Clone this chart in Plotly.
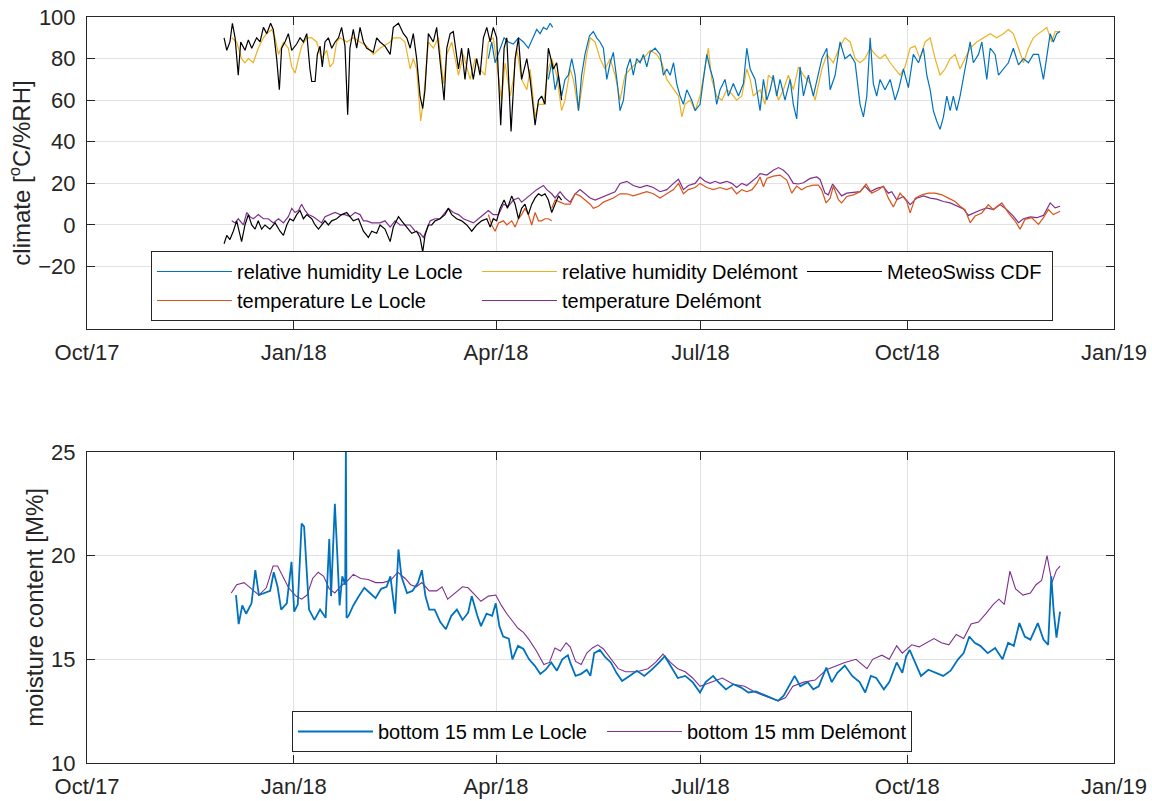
import pandas as pd
import plotly.graph_objects as go

START = pd.Timestamp("2017-10-01")
END = pd.Timestamp("2019-01-01")

# ---------------- top panel: climate (day offsets from 2017-10-01) ----------------
cdf_rh_day = [61.0,62.2,63.6,64.7,65.9,67.3,68.4,70.3,71.8,73.3,
              75.5,77.0,78.5,80.0,81.7,82.9,84.4,85.6,86.6,88.1,
              89.6,91.1,93.3,94.8,96.3,97.8,99.2,100.0,101.5,102.5,
              103.7,104.7,105.9,107.4,108.9,110.4,111.9,113.3,114.8,116.0,
              117.0,118.5,120.0,121.5,123.0,124.5,126.0,127.4,128.9,
              130.4,132.6,134.9,136.3,138.6,140.8,142.3,143.8,145.2,146.7,148.2,
              149.4,150.4,151.9,154.1,155.6,157.1,158.9,160.1,161.6,163.0,
              165.3,166.7,168.2,169.7,171.9,173.4,174.9,176.4,177.9,179.4,
              180.8,182.3,184.1,185.6,186.8,188.7,190.5,192.0,193.4,195.7,
              197.2,199.4,200.9,202.3,203.8,205.3,207.5,209.0,211.2]
cdf_rh = [90,84,88,97,90,72,88,84,89,85,
          90,88,95,92,97,94,80,65,85,88,
          92,84,87,90,88,92,75,69,69,82,
          86,76,88,90,85,88,90,95,86,53,
          85,94,85,95,88,85,84,83,90,
          88,86,82,95,97,92,90,85,92,80,62,
          56,65,92,88,95,80,60,85,92,93,
          75,85,70,85,70,80,72,90,95,88,
          95,90,48,85,90,45,80,90,70,80,
          70,48,60,62,58,85,75,78,60]

cdf_t_day = [61.0,62.2,63.6,65.1,66.6,67.8,68.8,70.3,71.8,73.3,
             74.8,76.2,77.7,79.2,81.4,83.7,85.9,87.4,88.9,90.3,
             91.8,93.3,94.8,96.3,97.8,100.0,101.5,103.0,104.4,105.9,
             107.4,108.9,111.1,113.3,115.6,117.0,118.5,120.8,123.0,125.2,
             126.7,128.9,130.4,132.6,134.9,136.3,138.6,140.0,141.5,143.0,
             144.5,146.7,148.2,149.4,150.4,151.9,153.4,154.9,157.1,159.3,
             160.8,162.3,164.5,166.7,169.0,171.2,173.4,175.6,177.9,179.4,
             180.8,182.3,183.8,185.6,187.1,189.0,190.5,192.0,193.4,194.9,
             196.4,197.9,199.4,200.9,202.3,203.8,205.3,206.8,208.3,209.8,211.2]
cdf_t = [-9,-5,-7,-3,2,-4,-8,0,5,0,
         -2,2,-2,0,-2,1,-3,-5,0,3,
         2,5,7,3,5,3,0,-2,0,2,
         0,2,3,5,6,4,2,3,-3,-6,
         -3,-4,0,-2,-8,-1,4,2,0,-2,
         -4,-3,-6,-13,-5,0,0,2,3,5,
         8,5,3,2,0,-3,0,2,3,-1,
         3,2,8,12,8,14,10,3,8,10,
         5,10,13,15,14,15,12,6,10,14,12]

rh_del_day = [64.4,66.6,68.8,70.3,71.8,74.0,76.2,78.5,80.0,82.2,
              83.7,85.2,87.4,89.6,91.1,92.6,94.1,95.5,97.8,100.0,
              102.2,104.4,106.7,108.1,109.6,111.1,112.6,115.6,118.5,121.5,
              124.5,127.4,
              130.4,134.9,136.3,139.3,141.5,143.8,145.2,146.7,148.5,149.7,
              151.9,154.1,156.4,158.6,160.1,162.3,165.3,167.5,170.5,172.7,
              174.9,177.1,178.6,180.8,183.1,184.5,186.0,188.3,189.7,191.2,
              193.4,195.7,197.2,199.4,200.9,203.1,205.3,206.8,209.0,211.2,
              212.7,215.0,216.4,218.7,220.1,222.4,223.9,226.1,228.3,230.5,
              232.8,235.0,237.2,239.4,241.7,244.6,247.6,250.6,253.5,255.8,
              258.0,261.0,263.2,264.7,266.1,268.4,270.6,272.8,275.0,276.5,
              278.0,280.2,282.5,284.7,286.9,289.1,291.4,293.6,295.1,296.5,
              299.5,301.7,303.2,305.4,307.7,309.9,312.1,314.3,316.6,318.8,
              321.8,324.0,327.0,329.2,332.1,335.1,337.3,339.6,341.8,344.0,
              346.2,348.5,350.7,352.9,355.1,357.4,359.6,361.8,364.0,366.3,
              368.5,370.7,372.9,375.2,377.4,379.6,381.8,384.1,386.3,388.5,
              390.7,393.0,395.9,398.9,401.9,404.8,407.8,410.0,412.2,414.5,
              416.7,418.9,421.1,423.4,425.6,427.1,429.3,430.8,433.0]
rh_del = [90,88,80,78,80,78,85,90,92,94,
          90,82,88,85,76,73,80,86,90,90,
          88,80,84,76,78,88,90,88,90,88,
          86,82,
          85,88,90,90,88,75,80,75,50,60,
          88,85,90,68,82,88,72,82,70,80,
          75,72,88,90,70,60,78,62,70,85,
          70,65,75,52,58,58,75,80,72,55,
          60,75,70,55,65,82,90,88,80,75,
          80,72,60,72,75,78,80,84,82,78,
          70,65,62,52,58,60,55,62,75,85,
          70,62,60,65,63,60,62,75,70,62,
          65,58,72,70,60,65,72,65,76,72,
          68,60,75,82,78,86,90,88,80,78,
          80,85,82,80,82,78,75,72,76,85,
          86,80,88,90,80,72,75,80,82,75,
          80,85,88,90,92,90,92,94,92,85,
          78,85,90,92,94,95,88,93,93]

# Le Locle relative humidity: early record (A) and main record (B)
rh_ll_a_day = [178.6,180.1,181.6,183.8,185.6,187.5,189.7,192.0,194.2,196.4,
               198.6,200.1,201.6,203.1,204.6,206.1,207.2]
rh_ll_a = [80,88,78,85,90,88,87,90,88,85,90,94,92,95,94,97,95]
rh_ll_b_day = [205.3,206.8,208.3,209.8,211.2,212.7,214.2,215.7,217.2,218.7,
               220.1,221.6,223.6,225.3,226.8,228.3,229.8,231.3,232.8,234.2,
               236.0,237.2,238.7,240.2,241.7,243.1,244.6,246.1,247.6,249.1,
               250.6,252.8,255.0,256.5,258.0,259.5,261.0,262.4,263.9,265.4,
               266.9,269.1,270.6,272.8,274.3,275.8,277.3,278.7,280.2,281.7,
               283.9,285.4,287.6,289.9,292.1,293.6,295.1,297.3,
               299.5,301.0,302.5,304.0,305.4,306.9,308.4,310.6,312.9,314.3,
               315.8,317.3,318.8,321.0,323.2,325.5,327.0,329.2,330.7,332.9,
               335.1,337.3,339.6,341.8,344.0,345.5,347.0,348.5,349.9,351.4,
               352.9,355.1,357.4,359.6,361.1,363.3,365.5,367.7,370.0,372.2,
               373.7,375.2,376.6,378.1,379.6,381.1,382.6,384.1,385.5,387.0,
               388.5,390.7,393.0,394.4,396.7,398.2,400.4,401.9,404.1,405.6,
               407.8,410.0,412.2,414.5,416.7,418.9,421.1,423.4,425.6,427.1,
               428.6,430.0,431.5,433.0]
rh_ll_b = [70,78,65,72,62,70,72,80,72,55,
           72,82,91,93,90,88,85,70,78,83,
           68,55,60,75,80,72,80,78,82,76,
           83,85,82,72,75,72,78,68,62,58,
           65,60,55,58,70,82,75,70,58,65,
           70,62,68,62,68,85,75,70,
           55,70,60,65,72,62,70,60,70,58,
           51,76,62,72,62,72,80,85,65,72,
           88,80,82,78,58,52,62,90,68,62,
           70,65,70,60,65,75,66,82,78,85,
           72,65,55,50,46,52,62,55,62,55,
           62,75,88,78,82,88,70,85,82,72,
           75,78,85,77,80,78,82,82,70,82,
           92,88,92,93]

t_del_day = [64.4,65.9,67.3,69.6,71.1,72.5,74.0,76.2,78.5,80.7,
             82.9,85.2,87.4,89.6,91.1,92.6,94.1,95.5,97.0,98.5,
             100.7,103.0,104.4,105.9,108.1,110.4,112.6,114.8,117.0,119.3,
             121.5,123.0,124.5,126.7,128.9,
             130.4,132.6,134.9,137.1,139.3,141.5,143.8,146.0,148.2,149.7,
             151.2,152.7,154.9,157.1,159.3,160.8,163.0,165.3,167.5,169.7,
             171.9,174.2,176.4,178.6,180.8,183.1,185.3,187.5,189.7,192.0,
             193.4,195.7,197.9,200.1,203.1,204.6,206.8,208.3,210.5,212.7,
             215.0,217.2,219.4,221.6,223.9,226.1,228.3,230.5,232.8,235.0,
             237.2,240.2,243.1,246.1,249.1,252.0,255.0,258.0,261.0,263.2,
             265.4,267.6,270.6,272.8,275.0,277.3,279.5,281.7,284.7,286.9,
             289.1,291.4,293.6,295.9,298.1,
             299.5,302.5,305.4,307.7,309.9,312.1,314.3,316.6,318.8,321.8,
             324.7,326.2,328.4,329.9,331.8,333.6,335.8,338.1,341.0,344.0,
             346.2,348.5,351.4,354.4,356.6,358.1,360.3,363.3,366.3,369.2,
             372.2,375.2,378.1,381.1,384.1,387.0,390.0,392.2,394.4,397.4,
             400.4,403.3,406.3,409.3,412.2,414.5,416.7,419.7,422.6,425.6,
             428.6,430.8,433.0]
t_del = [2,1,3,0,6,4,3,5,3,3,
         1,3,1,4,8,6,7,10,7,5,
         4,2,1,4,5,6,5,5,4,6,
         5,2,2,1,1,
         1,2,-1,2,0,0,0,-3,-4,-6,
         -2,2,3,3,6,8,6,5,3,2,
         1,3,5,7,5,5,10,9,12,13,
         11,13,15,17,19,17,15,13,16,13,
         11,15,17,15,13,12,13,14,15,16,
         20,21,19,18,19,18,16,17,20,22,
         17,19,20,23,21,20,21,20,21,20,
         18,20,19,21,23,
         24.7,24,26.3,27.6,26.3,24,20,19.7,20.3,22.4,
         23.1,21.9,15.3,14.5,19.7,16.9,14,15.3,15.6,16,
         18.7,16,17.6,18.4,15.3,16,12.1,13.7,9.8,12.9,
         14,12.9,12.4,11.3,10.6,9,7.7,4.6,5.8,7.1,
         8.2,7.4,9.8,7.4,4.3,1.1,3,3.9,3.5,4.6,
         10.6,8.2,9]

t_ll_a_day = [178.6,180.1,181.6,183.1,185.3,186.8,189.0,190.5,192.0,193.4,
              194.9,196.4,197.9,199.4,200.9,202.3,203.8,205.3,206.8]
t_ll_a = [5,0,-3,1,2,0,2,-1,3,5,8,5,0,6,2,2,3,3,2]
t_ll_b_day = [206.8,208.3,210.5,212.7,215.0,217.2,219.4,221.6,223.9,225.3,
              227.6,229.8,232.0,234.2,237.2,240.2,243.1,246.1,249.1,252.0,
              255.0,258.0,261.0,263.2,265.4,267.6,270.6,272.8,275.8,278.7,
              281.7,284.7,286.9,289.1,291.4,293.6,295.9,298.1,
              299.5,301.0,302.5,305.4,308.4,311.4,313.6,315.8,318.0,320.3,
              323.2,325.5,326.9,328.9,330.7,332.1,334.4,335.8,338.1,341.0,
              344.0,346.7,349.2,352.2,354.4,356.6,358.8,361.8,364.8,366.3,
              368.5,371.5,374.4,377.4,380.4,383.3,386.3,388.5,390.7,393.0,
              395.2,398.2,401.1,403.3,407.1,410.0,413.0,415.2,417.4,420.4,
              423.4,425.6,427.8,430.0,433.0]
t_ll_b = [8,12,11,10,10,15,14,12,10,8,
          9,11,12,13,15,15,14,15,16,15,
          13,15,17,20,15,17,18,20,18,17,
          18,17,18,15,17,16,17,20,
          23.1,18.4,22.4,23.5,24,21.6,15.3,18.7,16.9,18.4,
          19.2,19.2,16.9,10.6,12.9,18.7,12.1,10.6,13.7,14.5,
          16,19.7,15.3,16.9,18.7,12.9,8.7,15.3,11.3,5.8,
          12.9,14.5,15.3,15.3,14.5,12.9,11.3,9,7.4,1.1,
          4.3,5.8,9.8,7.4,10.6,5.8,1.9,-2,2.7,3.5,
          0.3,3.5,7.4,5,6.6]

# ---------------- bottom panel: moisture content ----------------
mc_ll_day = [66.3,67.5,69.1,70.8,73.2,74.9,76.5,79.0,81.5,83.1,
             84.8,86.4,88.9,91.0,92.2,93.8,95.5,96.6,97.6,98.8,
             101.2,103.7,106.2,107.8,108.6,110.3,111.4,112.4,113.6,114.9,
             115.2,115.5,116.4,118.5,121.0,123.4,125.9,
             128.4,130.9,133.3,135.0,137.1,138.6,139.9,142.4,144.8,147.3,
             149.0,150.6,152.3,154.7,157.2,159.7,162.1,164.6,167.1,169.6,
             171.2,173.7,175.3,177.8,180.3,181.9,183.5,185.2,187.7,189.3,
             191.8,194.2,196.7,199.2,201.7,204.1,206.6,209.1,211.5,214.0,
             215.0,217.4,219.9,222.4,224.0,225.7,228.2,230.6,233.1,235.6,
             238.1,241.4,244.7,248.0,251.3,254.6,257.1,259.6,262.9,266.2,
             269.5,272.8,275.3,278.6,281.0,284.3,287.6,290.9,294.3,297.6,
             300.9,304.2,307.5,310.0,312.4,314.9,317.4,320.7,323.2,325.6,
             329.0,331.4,333.9,337.2,340.5,343.8,346.3,348.8,351.2,354.6,
             357.0,360.3,362.8,364.5,366.1,368.6,371.1,374.4,377.7,381.0,
             384.3,387.6,390.1,392.6,395.0,397.5,400.8,404.1,407.4,409.9,
             412.4,414.9,417.3,419.8,423.1,425.6,427.7,429.1,430.1,431.4,
             433.0]
mc_ll = [18.1,16.7,17.6,17.2,17.7,19.3,18.1,18.2,18.3,19.2,
         18.5,17.4,17.7,19.7,17.3,17.65,21.55,21.4,19.3,17.4,
         16.9,17.4,17.0,20.8,18.05,22.5,20.0,17.6,19.0,18.6,
         25.5,17.0,17.1,17.6,18.05,18.45,18.2,
         17.95,18.4,18.5,19.0,17.2,20.3,19.0,18.2,18.3,18.7,
         19.3,18.05,17.4,17.4,16.8,16.45,17.1,17.4,16.9,17.25,
         18.05,17.1,16.6,17.2,17.1,17.7,16.6,16.1,16.0,15.0,
         15.65,15.5,15.0,14.7,14.3,14.5,14.85,14.45,15.0,15.2,
         14.85,14.2,14.3,14.5,14.2,15.3,15.45,15.1,14.85,14.35,
         13.95,14.2,14.45,14.2,14.5,14.85,15.15,14.7,14.1,14.2,
         13.9,13.4,13.9,14.2,13.9,13.55,13.8,13.65,13.4,13.45,
         13.3,13.15,13.0,13.25,13.7,14.2,13.7,13.9,13.55,13.7,
         14.6,13.9,14.35,14.7,14.2,13.9,13.4,14.2,14.1,13.55,
         13.9,14.85,14.35,15.15,15.45,14.85,14.2,14.5,14.35,14.2,
         14.45,15.0,15.3,16.1,15.8,15.65,15.3,15.55,15.0,15.8,
         15.65,16.75,16.1,15.95,16.75,15.95,15.7,19.0,17.4,16.05,
         17.3]

mc_del_day = [64.2,66.6,69.9,73.2,76.5,79.8,82.8,84.8,87.2,89.7,
              93.0,95.5,97.9,100.4,102.9,105.3,107.8,110.3,112.7,116.0,
              118.5,121.8,125.1,128.4,131.7,135.0,138.3,141.6,144.0,146.5,
              149.0,152.3,155.6,158.0,160.5,163.8,167.1,169.6,172.8,175.3,
              178.6,181.9,184.4,186.8,189.3,191.8,194.2,196.7,200.0,203.3,
              205.8,208.2,210.7,213.2,
              215.0,217.4,219.9,222.4,224.9,227.3,229.8,233.1,236.4,239.7,
              244.7,249.6,253.0,256.3,259.6,262.9,266.2,269.5,272.8,277.7,
              282.7,287.6,292.6,297.6,302.5,307.5,310.8,314.1,319.0,324.0,
              329.0,333.9,337.2,342.2,345.5,347.1,349.6,353.7,357.0,360.3,
              362.8,367.0,370.3,373.6,376.9,380.2,383.5,386.8,390.1,393.4,
              396.7,400.0,403.3,405.8,408.2,410.7,413.2,416.5,419.8,422.3,
              424.8,427.2,429.4,431.4,433.0]
mc_del = [18.2,18.6,18.7,18.4,18.1,18.45,19.5,19.5,19.0,18.45,
          18.05,17.9,18.1,18.9,19.2,19.0,18.4,18.2,18.5,18.8,
          19.1,18.9,18.85,18.7,18.7,18.8,19.2,18.9,18.6,18.5,
          18.7,18.3,18.3,18.5,17.9,18.2,18.5,18.45,18.1,17.8,
          18.05,18.1,17.6,17.2,16.85,16.5,16.3,15.95,15.4,14.75,
          14.85,15.55,15.4,15.8,
          15.6,14.9,14.75,15.3,15.55,15.7,15.5,15.0,14.55,14.4,
          14.4,14.55,14.85,15.25,14.85,14.55,14.4,14.1,13.7,13.9,
          14.1,13.8,13.7,13.4,13.2,13.0,13.15,13.7,13.9,14.0,
          14.5,14.7,14.85,15.0,14.7,14.55,15.0,15.2,15.0,15.65,
          15.3,15.7,15.6,15.8,16.0,15.8,15.7,16.2,16.0,16.7,
          16.8,17.2,17.65,17.9,17.65,19.25,18.4,18.1,18.2,18.6,
          18.8,20.0,18.7,19.3,19.5]

tick_dates = ["2017-10-01", "2018-01-01", "2018-04-01", "2018-07-01", "2018-10-01", "2019-01-01"]
tick_text = ["Oct/17", "Jan/18", "Apr/18", "Jul/18", "Oct/18", "Jan/19"]
top_yticks = [-20, 0, 20, 40, 60, 80, 100]
bot_yticks = [10, 15, 20, 25]

BLUE, ORANGE, YELLOW, PURPLE, BLACK = "#0072BD", "#D95319", "#EDB120", "#7E2F8E", "#000000"
TXT = "#262626"
FONT = "Liberation Sans, Arial, Helvetica, sans-serif"


def to_dates(days):
    return [START + pd.Timedelta(days=d) for d in days]


def joined(day_a, val_a, day_b, val_b):
    x = to_dates(day_a) + [None] + to_dates(day_b)
    y = list(val_a) + [None] + list(val_b)
    return x, y


fig = go.Figure()
lw = 1.2

# top panel traces (drawing order), legend ranks give legend order
fig.add_trace(go.Scatter(x=to_dates(rh_del_day), y=rh_del, mode="lines",
                         line=dict(color=YELLOW, width=lw), name="relative humidity Delémont",
                         legend="legend", legendrank=2, legendwidth=235))
x, y = joined(rh_ll_a_day, rh_ll_a, rh_ll_b_day, rh_ll_b)
fig.add_trace(go.Scatter(x=x, y=y, mode="lines", line=dict(color=BLUE, width=lw),
                         name="relative humidity Le Locle", legend="legend", legendrank=1,
                         legendwidth=235))
fig.add_trace(go.Scatter(x=to_dates(t_del_day), y=t_del, mode="lines",
                         line=dict(color=PURPLE, width=lw), name="temperature Delémont",
                         legend="legend", legendrank=5, legendwidth=235))
x, y = joined(t_ll_a_day, t_ll_a, t_ll_b_day, t_ll_b)
fig.add_trace(go.Scatter(x=x, y=y, mode="lines", line=dict(color=ORANGE, width=lw),
                         name="temperature Le Locle", legend="legend", legendrank=4,
                         legendwidth=235))
fig.add_trace(go.Scatter(x=to_dates(cdf_rh_day), y=cdf_rh, mode="lines",
                         line=dict(color=BLACK, width=lw), name="MeteoSwiss CDF",
                         legend="legend", legendrank=3, legendwidth=160))
fig.add_trace(go.Scatter(x=to_dates(cdf_t_day), y=cdf_t, mode="lines",
                         line=dict(color=BLACK, width=lw), name="MeteoSwiss CDF",
                         showlegend=False))

# bottom panel traces
fig.add_trace(go.Scatter(x=to_dates(mc_del_day), y=mc_del, mode="lines", xaxis="x2", yaxis="y2",
                         line=dict(color=PURPLE, width=1.1), name="bottom 15 mm Delémont",
                         legend="legend2", legendrank=2, legendwidth=219))
fig.add_trace(go.Scatter(x=to_dates(mc_ll_day), y=mc_ll, mode="lines", xaxis="x2", yaxis="y2",
                         line=dict(color=BLUE, width=1.8), name="bottom 15 mm Le Locle",
                         legend="legend2", legendrank=1, legendwidth=219))

xcommon = dict(type="date", range=[START, END], tickmode="array", tickvals=tick_dates,
               ticktext=tick_text, ticks="inside", ticklen=8, tickcolor=TXT, tickwidth=1,
               showline=True, linecolor=TXT, linewidth=1, mirror="ticks",
               showgrid=True, gridcolor="#e2e2e2", gridwidth=1, zeroline=False,
               automargin=False, ticklabeloverflow="allow",
               tickfont=dict(family=FONT, size=22, color=TXT), ticklabelstandoff=4)
ycommon = dict(ticks="inside", ticklen=8, tickcolor=TXT, tickwidth=1,
               showline=True, linecolor=TXT, linewidth=1, mirror="ticks",
               showgrid=True, gridcolor="#e2e2e2", gridwidth=1, zeroline=False,
               automargin=False, ticklabeloverflow="allow",
               tickfont=dict(family=FONT, size=22, color=TXT), ticklabelstandoff=6)

legend_common = dict(orientation="h", xanchor="left", yanchor="top", bgcolor="white",
                     bordercolor=TXT, borderwidth=1, itemwidth=75, tracegroupgap=0,
                     font=dict(family=FONT, size=20, color="#000000"))

fig.update_layout(
    width=1152, height=801,
    margin=dict(l=87, r=38, t=17, b=38, autoexpand=False),
    paper_bgcolor="white", plot_bgcolor="white",
    font=dict(family=FONT, color=TXT),
    xaxis=dict(**xcommon, domain=[0, 1], anchor="y"),
    yaxis=dict(**ycommon, domain=[0.5818, 1.0], range=[-50, 100], tickvals=top_yticks,
               anchor="x",
               title=dict(text="climate [<sup>o</sup>C/%RH]", standoff=0,
                          font=dict(family=FONT, size=24, color=TXT))),
    xaxis2=dict(**xcommon, domain=[0, 1], anchor="y2"),
    yaxis2=dict(**ycommon, domain=[0.0, 0.4169], range=[10, 25], tickvals=bot_yticks,
                anchor="x2",
                title=dict(text="moisture content [M%]", standoff=0,
                           font=dict(family=FONT, size=24, color=TXT))),
    legend=dict(**legend_common, x=0.0623, y=0.6863),
    legend2=dict(**legend_common, x=0.1996, y=0.0697),
    showlegend=True,
)

# remove the default page margin so the 1152x801 figure fills the window exactly
fig.write_html("out.html", config={"displayModeBar": False},
               post_script="document.body.style.margin='0px';")
